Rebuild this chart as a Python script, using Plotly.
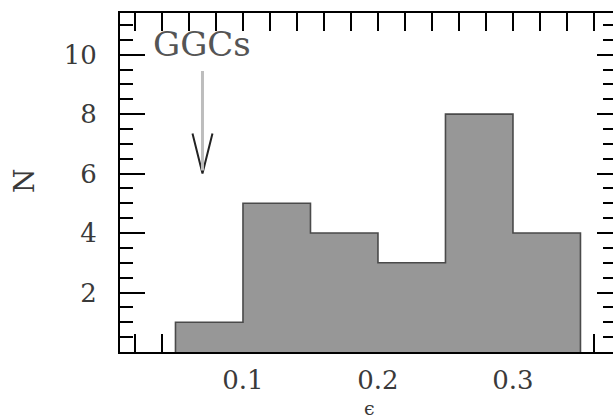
import plotly.graph_objects as go

# Histogram of ellipticities: bin left edges and counts
bin_left = [0.05, 0.10, 0.15, 0.20, 0.25, 0.30]
counts = [1, 5, 4, 3, 8, 4]
bin_width = 0.05

x_tick_vals = [0.1, 0.2, 0.3]
x_tick_text = ["0.1", "0.2", "0.3"]
y_tick_vals = [2, 4, 6, 8, 10]
y_tick_text = ["2", "4", "6", "8", "10"]

# Typical ellipticity of Galactic globular clusters, marked with an arrow
ggc_label = "GGCs"
ggc_eps = 0.07
arrow_top, arrow_tip = 9.5, 6.0

FONT = "DejaVu Serif"
TXT = "#3a3a3a"

bin_centers = [b + bin_width / 2 for b in bin_left]
right_edge = bin_left[-1] + bin_width

# step outline of the histogram
step_x = [bin_left[0]] + bin_left + [right_edge, right_edge]
step_y = [0] + counts + [counts[-1], 0]

fig = go.Figure()
fig.add_trace(go.Bar(
    x=bin_centers, y=counts, width=bin_width,
    marker=dict(color="#979797", line=dict(width=0)),
    hoverinfo="skip",
))
fig.add_trace(go.Scatter(
    x=step_x, y=step_y, mode="lines", line_shape="hv",
    line=dict(color="#4a4a4a", width=1.6),
    yaxis="y2", hoverinfo="skip",
))

# arrow: light shaft plus dark open head
fig.add_annotation(
    x=ggc_eps, y=arrow_tip + 0.1, ax=ggc_eps, ay=arrow_top,
    xref="x", yref="y", axref="x", ayref="y",
    text="", showarrow=True, arrowhead=0, arrowwidth=3, arrowcolor="#bdbdbd",
)
head_dx, head_dy = 0.0074, 1.35
fig.add_shape(
    type="path",
    path=(f"M {ggc_eps - head_dx},{arrow_tip + head_dy} L {ggc_eps},{arrow_tip} "
          f"L {ggc_eps + head_dx},{arrow_tip + head_dy}"),
    xref="x", yref="y", line=dict(color="#222222", width=2),
)
fig.add_annotation(
    x=0.032, y=10.37, xref="x", yref="y", text=ggc_label, showarrow=False,
    xanchor="left", yanchor="middle",
    font=dict(family=FONT, size=34, color="#555555"),
)

# axis titles
fig.add_annotation(
    x=-0.195, y=0.507, xref="paper", yref="paper", text="N", showarrow=False,
    textangle=-90, xanchor="center", yanchor="middle",
    font=dict(family=FONT, size=28, color=TXT),
)
fig.add_annotation(
    x=0.507, y=-0.164, xref="paper", yref="paper", text="ϵ", showarrow=False,
    xanchor="center", yanchor="middle",
    font=dict(family=FONT, size=19, color=TXT),
)

tickfont = dict(family=FONT, size=26, color=TXT)
fig.update_layout(
    width=613, height=419,
    margin=dict(l=120, r=0, t=13, b=67),
    paper_bgcolor="white", plot_bgcolor="white",
    showlegend=False, bargap=0,
    xaxis=dict(
        range=[0.0089, 0.3741], showline=True, linecolor="black", linewidth=2,
        mirror="allticks", ticks="inside", ticklen=18, tickwidth=2, tickcolor="black",
        tickvals=x_tick_vals, ticktext=x_tick_text, tickfont=tickfont,
        ticklabelstandoff=4,
        minor=dict(ticks="inside", ticklen=10, tickwidth=2, tickcolor="black",
                   dtick=0.02, tick0=0, tickmode="linear"),
        showgrid=False, zeroline=False, layer="below traces",
    ),
    yaxis=dict(
        range=[0, 11.4], showline=True, linecolor="black", linewidth=2,
        ticks="inside", ticklen=25, tickwidth=2, tickcolor="black",
        tickvals=y_tick_vals, ticktext=y_tick_text, tickfont=tickfont,
        ticklabelstandoff=16,
        minor=dict(ticks="inside", ticklen=13, tickwidth=2, tickcolor="black",
                   dtick=0.5, tick0=0, tickmode="linear"),
        showgrid=False, zeroline=False, layer="below traces",
    ),
    yaxis2=dict(
        overlaying="y", side="right", matches="y", showline=False,
        ticks="inside", ticklen=16, tickwidth=2, tickcolor="black",
        tickvals=y_tick_vals, showticklabels=False,
        minor=dict(ticks="inside", ticklen=10, tickwidth=2, tickcolor="black",
                   dtick=0.5, tick0=0, tickmode="linear"),
        showgrid=False, zeroline=False,
    ),
)

fig.write_html("out.html")
